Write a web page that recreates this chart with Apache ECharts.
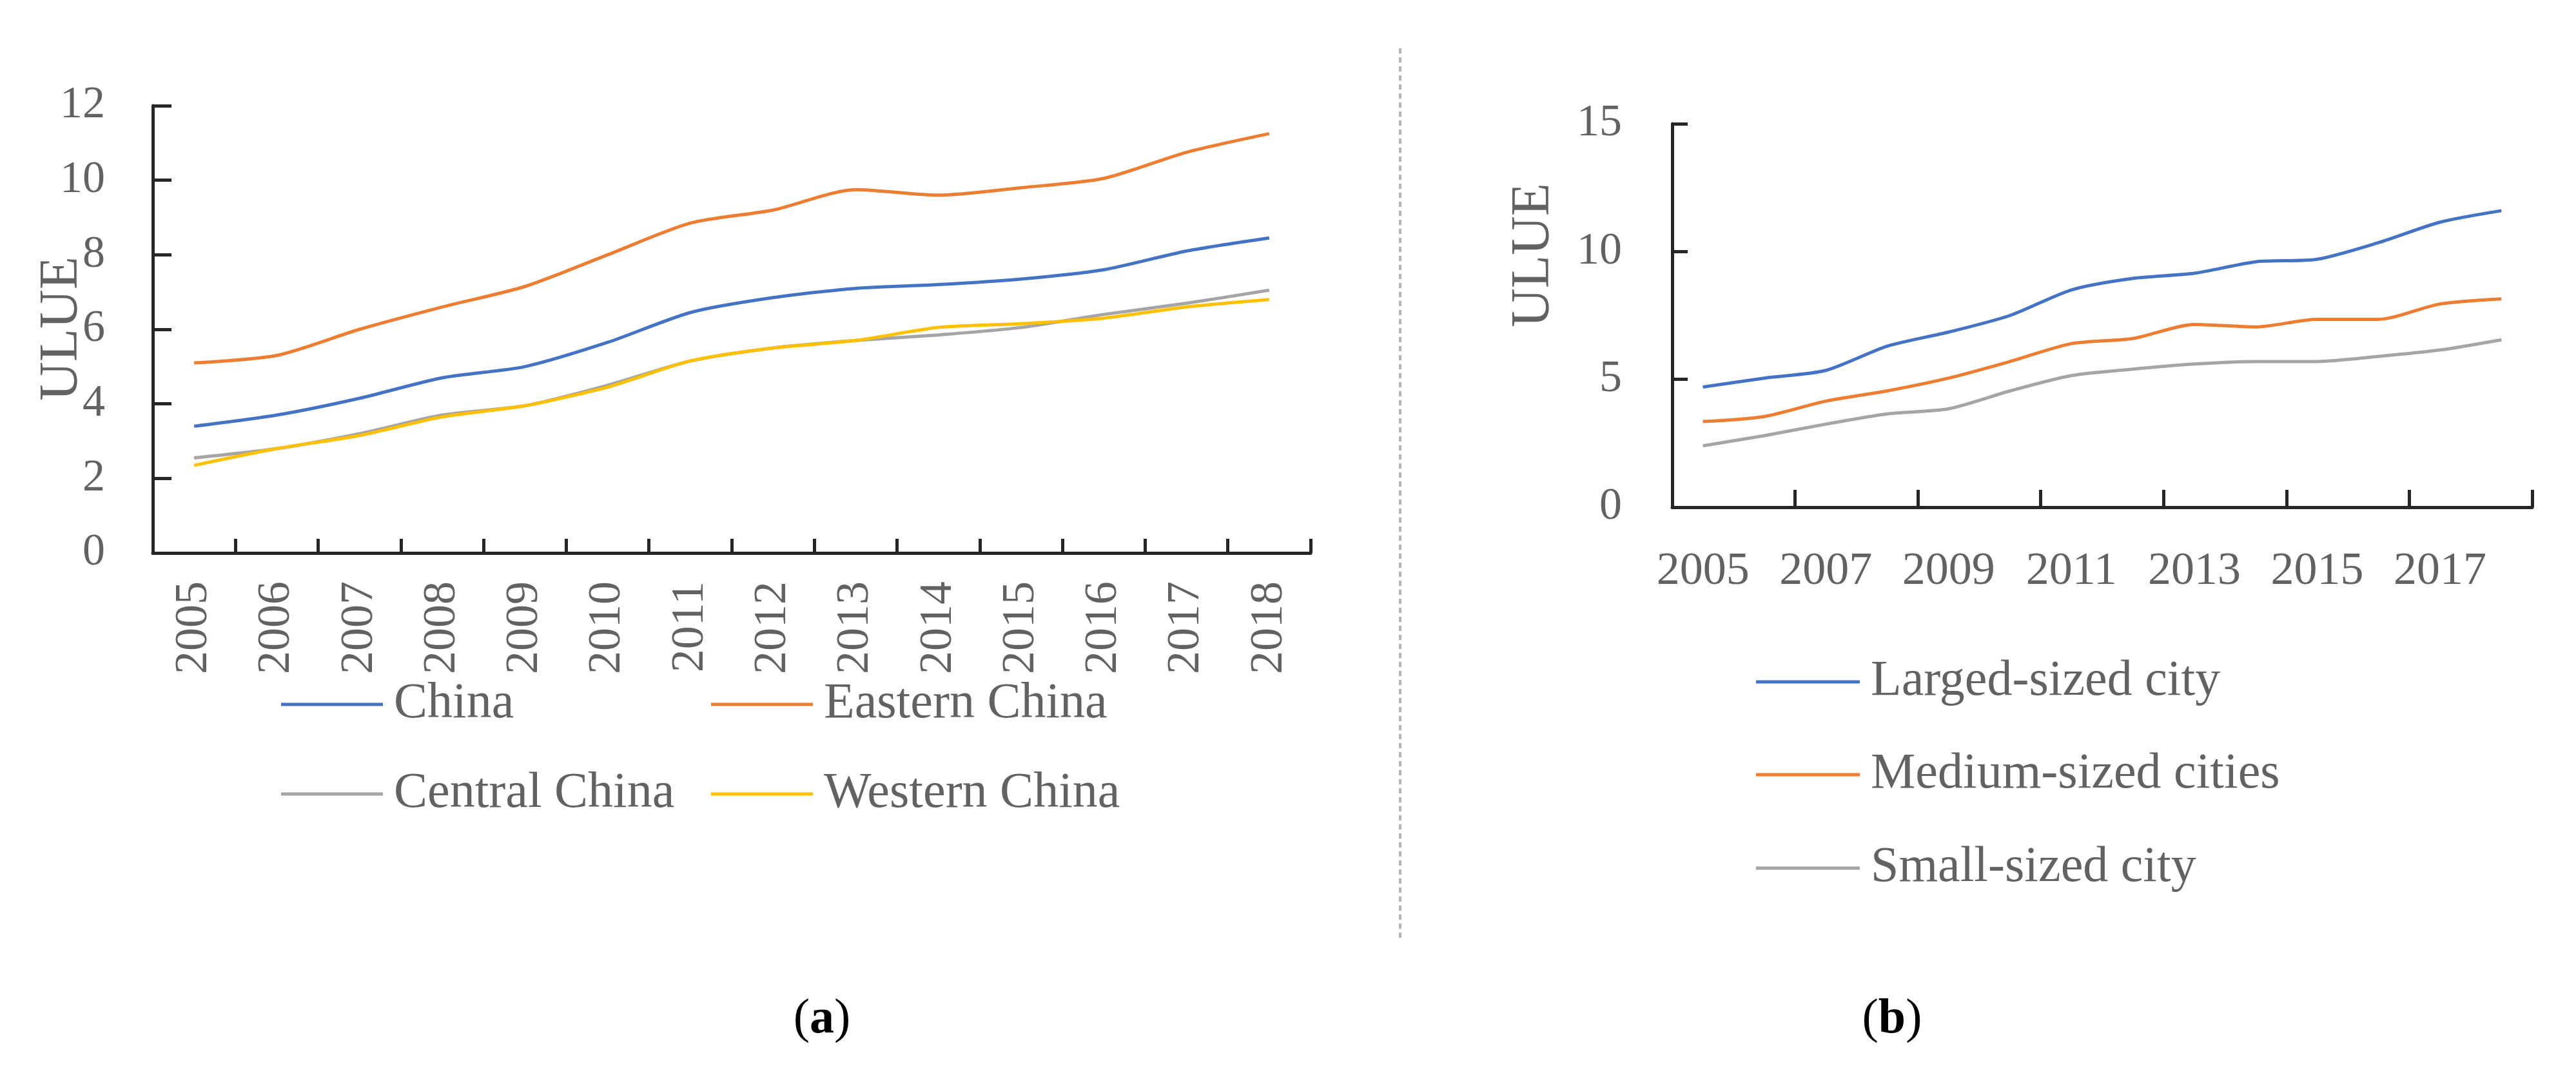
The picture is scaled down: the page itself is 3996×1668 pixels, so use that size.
<!DOCTYPE html>
<html>
<head>
<meta charset="utf-8">
<script src="https://cdn.jsdelivr.net/npm/echarts@6/dist/echarts.min.js"></script>
<style>
html,body{margin:0;padding:0;background:#fff;}
#chart{width:3996px;height:1668px;}
</style>
</head>
<body>
<div id="chart"></div>
<script>
// ---- data ----
const years = ['2005','2006','2007','2008','2009','2010','2011','2012','2013','2014','2015','2016','2017','2018'];

const regionNames = ['China','Eastern China','Central China','Western China'];
const china   = [3.4, 3.7, 4.15, 4.7, 5.0, 5.65, 6.45, 6.85, 7.1, 7.2, 7.35, 7.6, 8.1, 8.45];
const eastern = [5.1, 5.3, 6.0, 6.6, 7.15, 8.0, 8.85, 9.2, 9.75, 9.6, 9.8, 10.05, 10.75, 11.25];
const central = [2.55, 2.8, 3.2, 3.7, 3.95, 4.5, 5.15, 5.5, 5.7, 5.85, 6.05, 6.4, 6.7, 7.05];
const western = [2.35, 2.8, 3.15, 3.65, 3.95, 4.45, 5.15, 5.5, 5.7, 6.05, 6.15, 6.3, 6.6, 6.8];

const cityNames = ['Larged-sized city','Medium-sized cities','Small-sized city'];
const largeCity  = [4.7, 5.05, 5.35, 6.3, 6.85, 7.5, 8.5, 8.95, 9.15, 9.6, 9.7, 10.35, 11.15, 11.6];
const mediumCity = [3.35, 3.55, 4.15, 4.55, 5.05, 5.7, 6.4, 6.6, 7.15, 7.05, 7.35, 7.35, 7.95, 8.15];
const smallCity  = [2.4, 2.8, 3.25, 3.65, 3.85, 4.55, 5.15, 5.4, 5.6, 5.7, 5.7, 5.9, 6.15, 6.55];

const leftTicks = [0, 12, 2];   // min, max, interval
const rightTicks = [0, 15, 5];
const axisTitle = 'ULUE';
const panelLabels = ['a', 'b'];

// ---- styles ----
const FONT = '"Liberation Serif", "DejaVu Serif", serif';
const GRAY = '#626262';
const AXIS = '#262626';
const COLORS = ['#4472C4', '#ED7D31', '#A5A5A5', '#FFC000'];

const chart = echarts.init(document.getElementById('chart'), null, {renderer: 'canvas'});

function xAxisCfg(gridIndex, tickLen, labelCfg) {
  return {
    type: 'category', gridIndex, data: years, boundaryGap: true,
    axisLine: {show: true, lineStyle: {color: AXIS, width: 5}},
    axisTick: {show: true, inside: true, length: tickLen, lineStyle: {color: AXIS, width: 5}},
    axisLabel: Object.assign({color: GRAY, fontFamily: FONT, fontSize: 72}, labelCfg),
    splitLine: {show: false}
  };
}
function yAxisCfg(gridIndex, t, tickLen, margin) {
  return {
    type: 'value', gridIndex, min: t[0], max: t[1], interval: t[2],
    axisLine: {show: true, lineStyle: {color: AXIS, width: 5}},
    axisTick: {show: true, inside: true, length: tickLen, lineStyle: {color: AXIS, width: 5}},
    axisLabel: {color: GRAY, fontFamily: FONT, fontSize: 70, margin: margin},
    splitLine: {show: false}
  };
}
function lineSeries(name, data, color, axisIdx) {
  return {
    name, type: 'line', data, xAxisIndex: axisIdx, yAxisIndex: axisIdx,
    smooth: 0.25, showSymbol: false, symbol: 'none',
    lineStyle: {color, width: 5}, itemStyle: {color},
    emphasis: {disabled: true}, animation: false
  };
}
function legendCfg(name, left, centerY, iconW) {
  return {
    data: [name], left: left, top: centerY - 39, padding: 0,
    icon: 'rect', itemWidth: iconW, itemHeight: 5,
    textStyle: {color: GRAY, fontFamily: FONT, fontSize: 78, lineHeight: 78, padding: [0, 0, 0, 12]},
    selectedMode: false
  };
}

const option = {
  backgroundColor: '#fff',
  animation: false,
  grid: [
    {left: 237, top: 164, width: 1796, height: 694},
    {left: 2594, top: 192, width: 1334, height: 595}
  ],
  xAxis: [
    xAxisCfg(0, 22, {rotate: 90, margin: 44, interval: 0}),
    xAxisCfg(1, 27, {margin: 64, interval: 1})
  ],
  yAxis: [
    yAxisCfg(0, leftTicks, 29, 74),
    yAxisCfg(1, rightTicks, 24, 78)
  ],
  legend: [
    legendCfg(regionNames[0], 436, 1093, 158),
    legendCfg(regionNames[1], 1103, 1093, 158),
    legendCfg(regionNames[2], 436, 1232, 158),
    legendCfg(regionNames[3], 1103, 1232, 158),
    legendCfg(cityNames[0], 2724, 1058, 161),
    legendCfg(cityNames[1], 2724, 1202, 161),
    legendCfg(cityNames[2], 2724, 1347, 161)
  ],
  series: [
    lineSeries(regionNames[0], china, COLORS[0], 0),
    lineSeries(regionNames[1], eastern, COLORS[1], 0),
    lineSeries(regionNames[2], central, COLORS[2], 0),
    lineSeries(regionNames[3], western, COLORS[3], 0),
    lineSeries(cityNames[0], largeCity, COLORS[0], 1),
    lineSeries(cityNames[1], mediumCity, COLORS[1], 1),
    lineSeries(cityNames[2], smallCity, COLORS[2], 1)
  ],
  graphic: [
    {type: 'text', x: 97, y: 510, rotation: Math.PI / 2,
     style: {text: axisTitle, fill: GRAY, font: '84px ' + FONT, align: 'center', verticalAlign: 'middle'}},
    {type: 'text', x: 2380, y: 396, rotation: Math.PI / 2,
     style: {text: axisTitle, fill: GRAY, font: '84px ' + FONT, align: 'center', verticalAlign: 'middle'}},
    {type: 'line', shape: {x1: 2172, y1: 75, x2: 2172, y2: 1460},
     style: {stroke: '#b4b4b4', lineWidth: 4, lineDash: [8, 6]}},
    {type: 'text', x: 1275, y: 1582,
     style: {text: '(' + '{b|' + panelLabels[0] + '})', align: 'center', verticalAlign: 'middle',
       fill: '#000', font: '76px ' + FONT,
       rich: {b: {fontWeight: 'bold', fontSize: 76, fontFamily: FONT, fill: '#000'}}}},
    {type: 'text', x: 2935, y: 1582,
     style: {text: '(' + '{b|' + panelLabels[1] + '})', align: 'center', verticalAlign: 'middle',
       fill: '#000', font: '76px ' + FONT,
       rich: {b: {fontWeight: 'bold', fontSize: 76, fontFamily: FONT, fill: '#000'}}}}
  ]
};
chart.setOption(option);
</script>
</body>
</html>
